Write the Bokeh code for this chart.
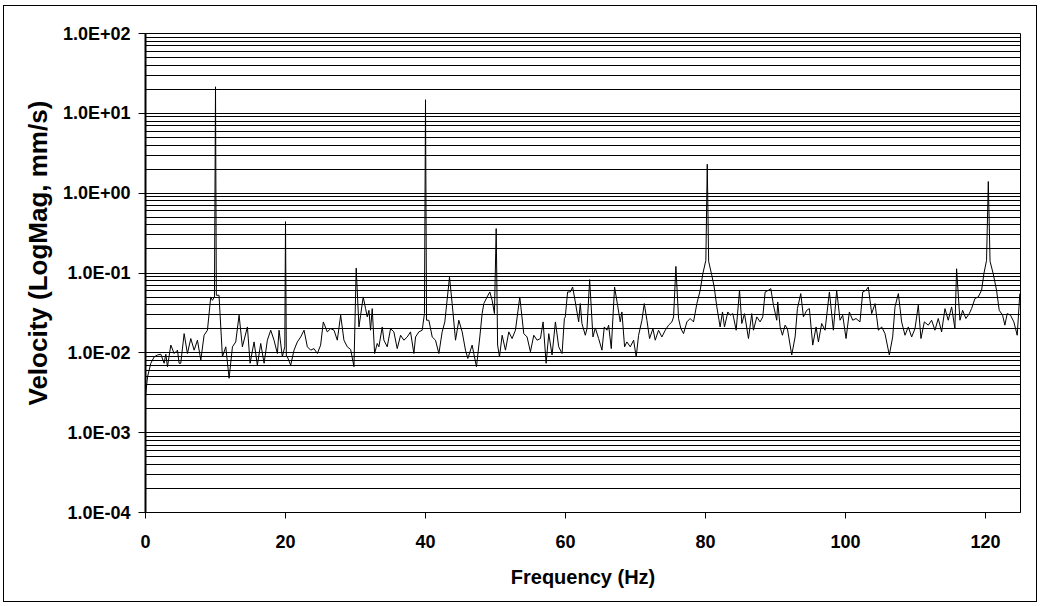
from bokeh.plotting import figure
from bokeh.models import FixedTicker, Range1d, Title
from bokeh.embed import file_html
from bokeh.resources import INLINE

# Frequency (Hz) and velocity (mm/s)
freq = [0.0, 0.29, 0.76, 1.24, 1.71, 2.19, 2.66, 2.9, 3.14, 3.62, 4.09, 4.57, 4.8, 5.04,
        5.52, 5.99, 6.47, 6.95, 7.42, 7.9, 8.37, 8.85, 9.32, 9.56, 9.85, 10.0, 10.12, 10.5,
        10.99, 11.47, 11.94, 12.42, 12.89, 13.37, 13.84, 14.56, 14.94, 15.51, 15.98, 16.46,
        16.94, 17.41, 17.89, 18.36, 18.84, 19.08, 19.55, 19.9, 20.0, 20.12, 20.27, 20.74,
        21.22, 21.69, 22.17, 22.65, 23.12, 23.6, 24.07, 24.55, 25.02, 25.4, 25.97, 26.45,
        26.93, 27.4, 27.88, 28.35, 28.83, 29.31, 29.78, 30.1, 30.49, 30.73, 31.1, 31.44,
        31.68, 31.92, 32.15, 32.39, 32.73, 33.1, 33.34, 33.82, 34.06, 34.53, 35.01, 35.48,
        35.96, 36.44, 36.91, 37.39, 37.86, 38.34, 38.58, 39.05, 39.53, 39.85, 40.0, 40.15,
        40.48, 40.96, 41.43, 41.91, 42.38, 42.76, 43.43, 43.81, 44.29, 44.76, 45.24, 45.71,
        46.05, 46.66, 47.28, 47.76, 48.09, 48.33, 48.8, 49.19, 49.52, 49.85, 50.1, 50.3,
        50.57, 50.95, 51.42, 51.9, 52.37, 52.85, 53.47, 54.04, 54.51, 54.99, 55.47, 55.94,
        56.42, 56.8, 57.23, 57.61, 58.08, 58.56, 59.03, 59.51, 59.84, 59.97, 60.3, 60.69,
        61.02, 61.4, 61.88, 62.11, 62.35, 62.83, 63.07, 63.45, 63.92, 64.26, 64.73, 65.21,
        65.54, 65.92, 66.16, 66.54, 67.01, 67.44, 67.82, 68.06, 68.44, 68.77, 69.25, 69.73,
        70.1, 70.44, 70.92, 71.25, 71.63, 72.01, 72.49, 72.82, 73.29, 73.77, 74.25, 74.72,
        75.2, 75.44, 75.77, 76.15, 76.48, 76.86, 77.34, 77.81, 78.29, 78.77, 79.24, 79.62,
        80.05, 80.25, 80.45, 80.9, 81.24, 81.62, 82.09, 82.43, 82.71, 83.19, 83.52, 83.9,
        84.38, 84.86, 85.19, 85.57, 86.14, 86.61, 86.85, 87.33, 87.8, 88.18, 88.52, 88.99,
        89.33, 89.71, 90.18, 90.32, 90.66, 90.99, 91.37, 91.7, 92.32, 92.8, 93.13, 93.61,
        93.99, 94.46, 94.84, 95.32, 95.8, 96.13, 96.6, 97.08, 97.7, 98.27, 98.74, 99.22,
        99.6, 100.08, 100.55, 101.03, 101.5, 102.07, 102.46, 102.93, 103.26, 103.74, 104.22,
        104.69, 105.17, 105.64, 106.26, 106.74, 107.07, 107.55, 108.02, 108.5, 108.97,
        109.45, 109.93, 110.4, 110.78, 111.26, 111.83, 112.3, 112.78, 113.25, 113.73,
        114.21, 114.68, 115.16, 115.63, 115.87, 116.35, 116.73, 117.2, 117.68, 118.01,
        118.49, 118.96, 119.44, 119.77, 120.15, 120.4, 120.65, 121.1, 121.58, 121.96,
        122.44, 122.77, 123.1, 123.58, 124.05, 124.53, 124.9]

vel = [0.0029, 0.005, 0.0074, 0.0089, 0.0094, 0.0096, 0.0074, 0.0096, 0.0067, 0.0125, 0.0098,
       0.0108, 0.0074, 0.0074, 0.0174, 0.0098, 0.0151, 0.0108, 0.0144, 0.0081, 0.0166, 0.0192,
       0.0501, 0.0455, 0.05, 21.5, 0.0526, 0.0526, 0.0089, 0.0119, 0.0048, 0.0119, 0.0137,
       0.0296, 0.0119, 0.0211, 0.0074, 0.0137, 0.007, 0.0131, 0.0074, 0.0144, 0.0192, 0.0144,
       0.0098, 0.0192, 0.0089, 0.012, 0.44, 0.009, 0.0089, 0.007, 0.0108, 0.0137, 0.0158,
       0.0192, 0.0119, 0.0108, 0.0113, 0.0098, 0.0125, 0.0244, 0.0183, 0.0201, 0.0192, 0.0144,
       0.0296, 0.0144, 0.0119, 0.011, 0.0067, 0.115, 0.0211, 0.0296, 0.0501, 0.0358, 0.0282,
       0.0341, 0.0192, 0.0358, 0.0098, 0.0131, 0.0119, 0.0211, 0.0144, 0.0119, 0.0201, 0.0183,
       0.0113, 0.0166, 0.0144, 0.0158, 0.0183, 0.0098, 0.0158, 0.0183, 0.0192, 0.031, 14.8,
       0.0256, 0.0256, 0.0158, 0.0144, 0.0098, 0.0183, 0.0244, 0.089, 0.0414, 0.0144, 0.0256,
       0.0183, 0.0108, 0.0085, 0.0125, 0.0067, 0.0158, 0.031, 0.0414, 0.0501, 0.0579, 0.0455,
       0.031, 0.36, 0.0125, 0.0089, 0.0166, 0.0108, 0.0183, 0.0151, 0.0192, 0.0501, 0.0174,
       0.0158, 0.0103, 0.0166, 0.0144, 0.0151, 0.0244, 0.0074, 0.0174, 0.0094, 0.0244, 0.0119,
       0.0098, 0.0269, 0.0282, 0.0579, 0.0579, 0.0668, 0.0434, 0.0244, 0.0414, 0.0233, 0.0166,
       0.0201, 0.0826, 0.0158, 0.0205, 0.0151, 0.0108, 0.0211, 0.0192, 0.0222, 0.0113, 0.0668,
       0.0395, 0.0244, 0.0325, 0.0119, 0.0137, 0.0119, 0.0144, 0.0089, 0.0166, 0.0256, 0.0414,
       0.0256, 0.0151, 0.0201, 0.0144, 0.0192, 0.0158, 0.0192, 0.0222, 0.0244, 0.0282, 0.121,
       0.0269, 0.0201, 0.0174, 0.0244, 0.0269, 0.0244, 0.0414, 0.0607, 0.098, 0.144, 2.3, 0.14,
       0.0935, 0.0668, 0.0376, 0.0211, 0.0325, 0.0211, 0.0325, 0.0296, 0.031, 0.0192, 0.0607,
       0.0233, 0.031, 0.0151, 0.031, 0.0192, 0.0282, 0.0244, 0.0282, 0.0579, 0.0607, 0.0637,
       0.0395, 0.0256, 0.0434, 0.0211, 0.0166, 0.0222, 0.0201, 0.0094, 0.0158, 0.0358, 0.0552,
       0.0282, 0.0341, 0.0358, 0.0125, 0.0211, 0.0137, 0.0233, 0.0192, 0.0579, 0.0192, 0.0607,
       0.0256, 0.0296, 0.0151, 0.0325, 0.0256, 0.0269, 0.0244, 0.0579, 0.0607, 0.0668, 0.031,
       0.0414, 0.0192, 0.0211, 0.0174, 0.0094, 0.0158, 0.0376, 0.0552, 0.0244, 0.0166, 0.0211,
       0.0158, 0.0201, 0.0395, 0.0151, 0.0244, 0.0222, 0.0256, 0.0192, 0.0269, 0.0183, 0.0358,
       0.0256, 0.0376, 0.0201, 0.113, 0.0256, 0.0341, 0.0269, 0.031, 0.0358, 0.0478, 0.0501,
       0.0607, 0.098, 0.144, 1.4, 0.14, 0.098, 0.0607, 0.0341, 0.0296, 0.0222, 0.031, 0.0296,
       0.0244, 0.0166, 0.0552]

x_ticks = [0, 20, 40, 60, 80, 100, 120]
y_ticks = [1e-4, 1e-3, 1e-2, 1e-1, 1e0, 1e1, 1e2]
y_tick_labels = ["1.0E-04", "1.0E-03", "1.0E-02", "1.0E-01", "1.0E+00", "1.0E+01", "1.0E+02"]
y_minor = [m * 10.0 ** e for e in range(-4, 2) for m in range(2, 10)]

FONT = "Liberation Sans"

p = figure(width=1032, height=595, y_axis_type="log",
           x_range=Range1d(0, 125), y_range=Range1d(1e-4, 1e2),
           output_backend="svg", toolbar_location=None,
           min_border_left=141, min_border_right=16, min_border_top=27, min_border_bottom=89)
p.margin = (6, 4, 5, 4)
p.styles = {"outline": "1px solid black"}

p.background_fill_color = "white"
p.border_fill_color = "white"
p.outline_line_color = "black"
p.outline_line_width = 1

p.line(freq, vel, line_color="black", line_width=1)

# grid
p.xgrid.grid_line_color = None
p.ygrid.grid_line_color = "black"
p.ygrid.grid_line_width = 1
p.ygrid.minor_grid_line_color = "black"
p.ygrid.minor_grid_line_width = 1

# y axis
ya = p.yaxis[0]
ya.ticker = FixedTicker(ticks=y_ticks, minor_ticks=y_minor)
ya.major_label_overrides = {t: l for t, l in zip(y_ticks, y_tick_labels)}
ya.major_label_text_font = FONT
ya.major_label_text_font_style = "bold"
ya.major_label_text_font_size = "18px"
ya.major_label_text_color = "black"
ya.major_label_standoff = 8
ya.major_tick_out = 7
ya.major_tick_in = 0
ya.minor_tick_line_color = None
ya.axis_line_color = "black"
ya.axis_line_width = 2
ya.major_tick_line_color = "black"

p.add_layout(Title(text="Velocity (LogMag, mm/s)", align="left", offset=107,
                   text_font=FONT, text_font_style="bold", text_font_size="26px",
                   text_color="black", standoff=13), "left")

# x axis
xa = p.xaxis[0]
xa.ticker = FixedTicker(ticks=x_ticks)
xa.axis_label = "Frequency (Hz)"
xa.axis_label_text_font = FONT
xa.axis_label_text_font_style = "bold"
xa.axis_label_text_font_size = "20px"
xa.axis_label_text_color = "black"
xa.axis_label_standoff = 15
xa.major_label_text_font = FONT
xa.major_label_text_font_style = "bold"
xa.major_label_text_font_size = "18px"
xa.major_label_text_color = "black"
xa.major_label_standoff = 16
xa.major_tick_out = 6
xa.major_tick_in = 0
xa.minor_tick_line_color = None
xa.axis_line_color = "black"
xa.axis_line_width = 1
xa.major_tick_line_color = "black"

open("out.html", "w").write(file_html(p, INLINE))
